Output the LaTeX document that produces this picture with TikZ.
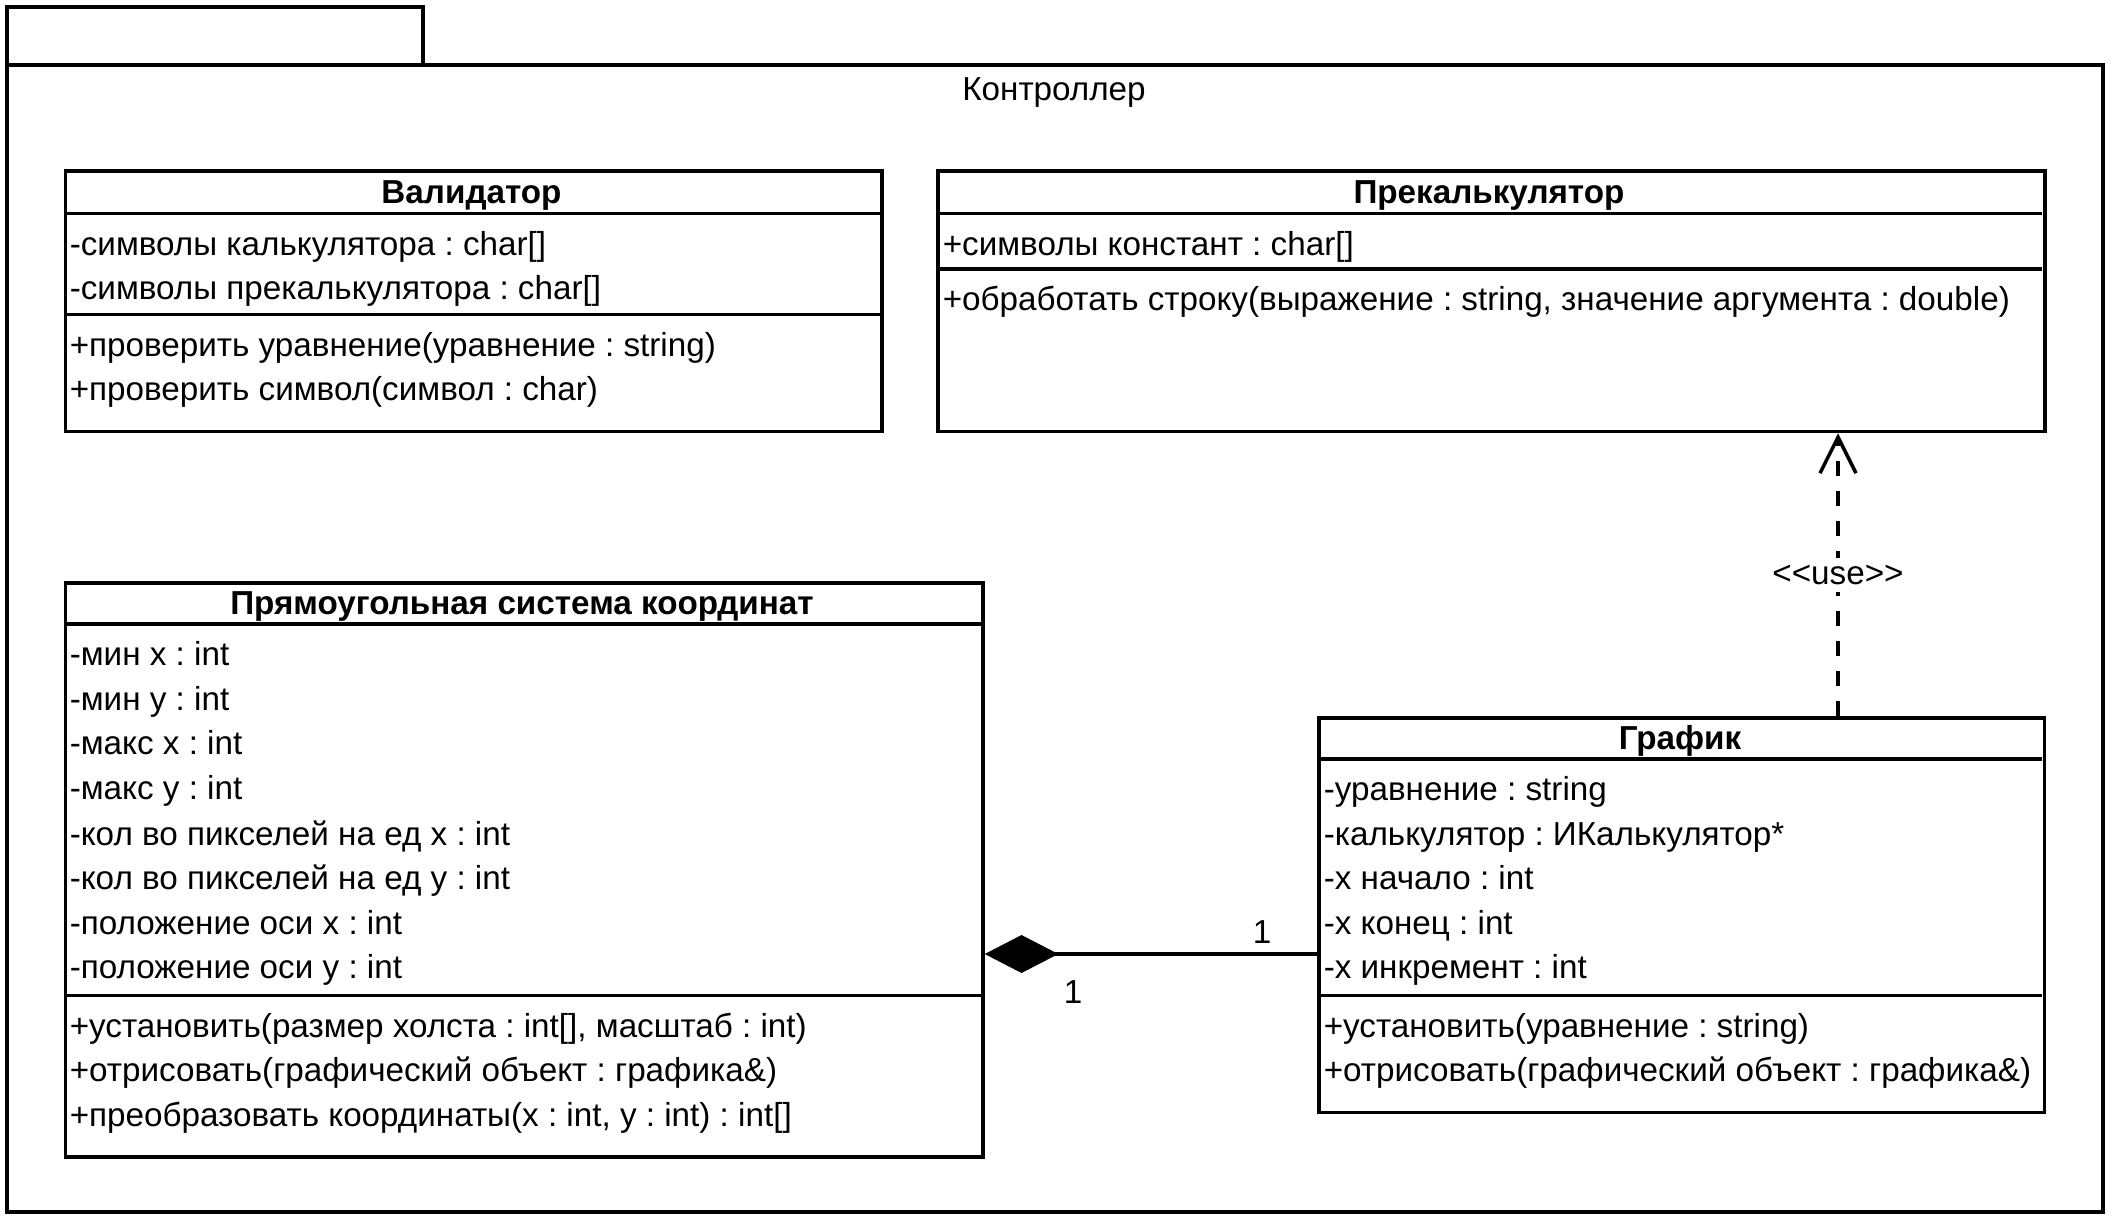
\documentclass[tikz,border=0pt]{standalone}
\usepackage{fontspec}
\setmainfont{Liberation Sans}
\usepackage{tikz}
\usetikzlibrary{arrows.meta}
\frenchspacing

\tikzset{
	classbox/.style={draw, inner sep=0pt, anchor=north west},
	member/.style={anchor=west, inner sep=0pt, text height=0.6em, text depth=0pt},
	classname/.style={inner sep=0pt, text height=0.6em, text depth=0pt, font=\fontsize{9.45}{11}\selectfont\bfseries},
	usedep/.style={dash pattern=on 0.15cm off 0.15cm, -{Straight Barb[length=0.36cm, width=0.36cm]}},
	composition/.style={-{Diamond[length=0.735cm, width=0.38cm]}}
}

\begin{document}
\begin{tikzpicture}[x=0.01cm, y=-0.01cm, line width=1pt, font=\fontsize{9.45}{11}\selectfont]
		\useasboundingbox (0,0) rectangle (2118,1227);
		% Package frame:
		\draw (7,65) rectangle (2103,1212);
		\draw (7,65) -- (7,7) -- (423,7) -- (423,65);
		\node[inner sep=0pt, text height=0.6em, text depth=0pt] (pkgname) at (1054,90) {Контроллер};

		% Class boxes:
		\node[classbox, minimum width=8.16cm, minimum height=2.606cm] (valid) at (63.5,169) {};
		\node[classbox, minimum width=11.064cm, minimum height=2.606cm] (precalc) at (936,169) {};
		\node[classbox, minimum width=9.172cm, minimum height=5.741cm] (coordsys) at (63.5,581) {};
		\node[classbox, minimum width=7.254cm, minimum height=3.945cm] (graph) at (1317,716) {};

		% Compartments:
		\draw (63.5,213.4) -- (879.5,213.4);
		\draw (63.5,314.7) -- (879.5,314.7);
		\draw (936,213.4) -- (2042.4,213.4);
		\draw (936,268.8) -- (2042.4,268.8);
		\draw (63.5,624.1) -- (980.7,624.1);
		\draw (63.5,995.5) -- (980.7,995.5);
		\draw (1317,759.1) -- (2042.4,759.1);
		\draw (1317,995.5) -- (2042.4,995.5);

		% Валидатор:
		\node[classname] (valid-name) at (471.5,193) {Валидатор};
		\node[member] (valid-a1) at (68,245) {-символы калькулятора : char[]};
		\node[member] (valid-a2) at (68,289) {-символы прекалькулятора : char[]};
		\node[member] (valid-m1) at (68,346) {+проверить уравнение(уравнение : string)};
		\node[member] (valid-m2) at (68,390) {+проверить символ(символ : char)};

		% Прекалькулятор:
		\node[classname] (precalc-name) at (1489,193) {Прекалькулятор};
		\node[member] (precalc-a1) at (941,245) {+символы констант : char[]};
		\node[member] (precalc-m1) at (941,300) {+обработать строку(выражение : string, значение аргумента : double)};

		% Прямоугольная система координат:
		\node[classname] (coordsys-name) at (522,604) {Прямоугольная система координат};
		\node[member] (coordsys-a1) at (68,655) {-мин x : int};
		\node[member] (coordsys-a2) at (68,700) {-мин y : int};
		\node[member] (coordsys-a3) at (68,744) {-макс x : int};
		\node[member] (coordsys-a4) at (68,789) {-макс y : int};
		\node[member] (coordsys-a5) at (68,835) {-кол во пикселей на ед x : int};
		\node[member] (coordsys-a6) at (68,879) {-кол во пикселей на ед y : int};
		\node[member] (coordsys-a7) at (68,924) {-положение оси x : int};
		\node[member] (coordsys-a8) at (68,968) {-положение оси y : int};
		\node[member] (coordsys-m1) at (68,1027) {+установить(размер холста : int[], масштаб : int)};
		\node[member] (coordsys-m2) at (68,1071) {+отрисовать(графический объект : графика\&)};
		\node[member] (coordsys-m3) at (68,1116) {+преобразовать координаты(x : int, y : int) : int[]};

		% График:
		\node[classname] (graph-name) at (1680,739) {График};
		\node[member] (graph-a1) at (1322,790) {-уравнение : string};
		\node[member] (graph-a2) at (1322,835) {-калькулятор : ИКалькулятор*};
		\node[member] (graph-a3) at (1322,879) {-x начало : int};
		\node[member] (graph-a4) at (1322,924) {-x конец : int};
		\node[member] (graph-a5) at (1322,968) {-x инкремент : int};
		\node[member] (graph-m1) at (1322,1027) {+установить(уравнение : string)};
		\node[member] (graph-m2) at (1322,1071) {+отрисовать(графический объект : графика\&)};

		% Relations:
		\coordinate (comp) at (0,954);
		\draw[composition] (graph.west |- comp) -- (coordsys.east |- comp);
		\node (mult-graph) at (1262,932) {1};
		\node (mult-coord) at (1073,992) {1};
		\coordinate (dep) at (1838,0);
		\draw[usedep] (graph.north -| dep) -- node[fill=white, inner sep=2pt] (use-label) {<\kern0pt<use>\kern0pt>} (precalc.south -| dep);
	\end{tikzpicture}
\end{document}
